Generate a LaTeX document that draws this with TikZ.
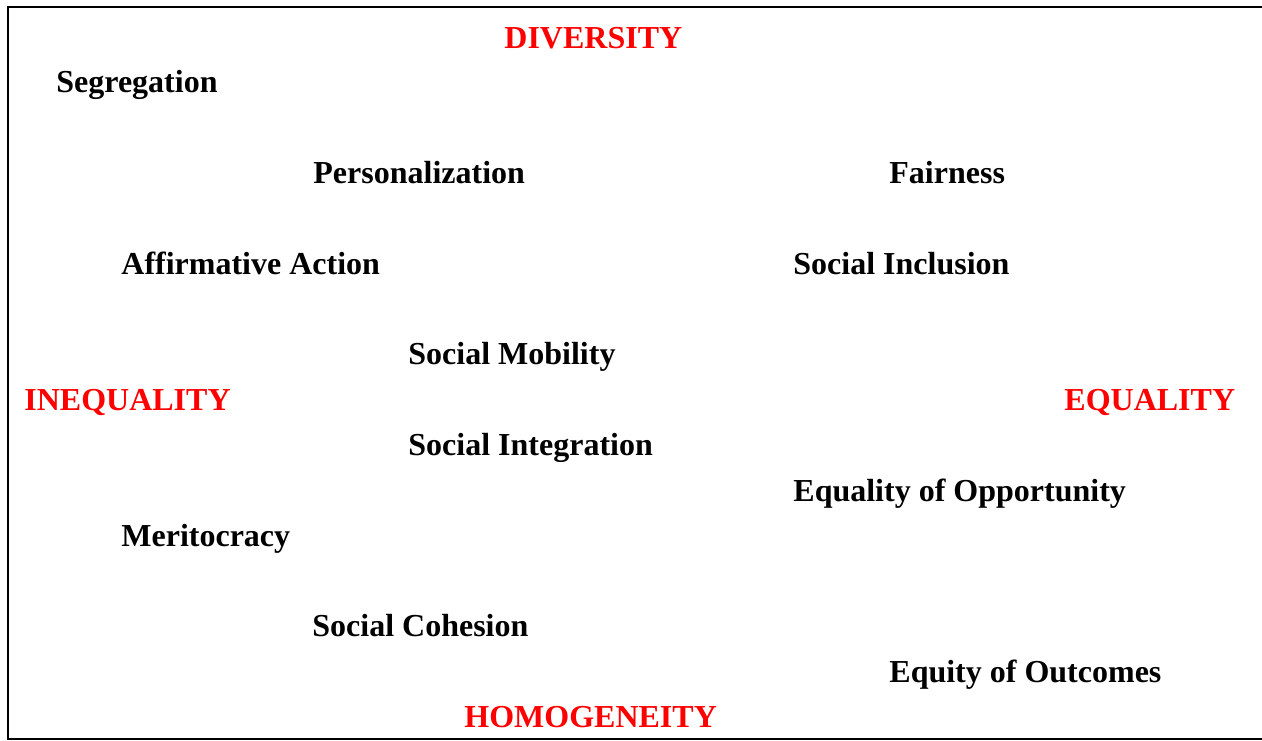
\documentclass[tikz,border=0pt]{standalone}
\usepackage{fontspec}
\setmainfont{Liberation Serif}
\usepackage{xcolor}
\usepackage{tikz}
\usetikzlibrary{positioning}

\begin{document}
\begin{tikzpicture}[
          x=0.5pt, y=-0.5pt,
          term/.style={anchor=base west, inner sep=0pt, font=\fontsize{16}{18}\selectfont\bfseries},
          pole/.style={term, text=red}
        ]
          \clip (0,0) rectangle (1262,740);
          \useasboundingbox (0,0) rectangle (1262,740);

          % Frame (open on the right)
          \draw[line width=0.8pt] (8,7) rectangle (1280,739);

          % Axis ends
          \node[pole] (div) at (504,48) {DIVERSITY};
          \node[pole] (ineq) at (24,410) {INEQUALITY};
          \node[pole] (eq) at (1064,410) {EQUALITY};
          \node[pole] (homog) at (464,727) {HOMOGENEITY};

          % Concepts
          \node[term] (segr) at (56,92) {Segregation};
          \node[term] (pers) at (313,183) {Personalization};
          \node[term] (fair) at (889,183) {Fairness};
          \node[term] (affirm) at (121,274) {Affirmative Action};
          \node[term] (incl) at (793,274) {Social Inclusion};
          \node[term] (mobil) at (408,364) {Social Mobility};
          \node[term] (integr) at (408,455) {Social Integration};
          \node[term] (oppor) at (793,501) {Equality of Opportunity};
          \node[term] (merit) at (121,546) {Meritocracy};
          \node[term] (cohes) at (312,636) {Social Cohesion};
          \node[term] (outc) at (889,682) {Equity of Outcomes};
        \end{tikzpicture}
\end{document}
